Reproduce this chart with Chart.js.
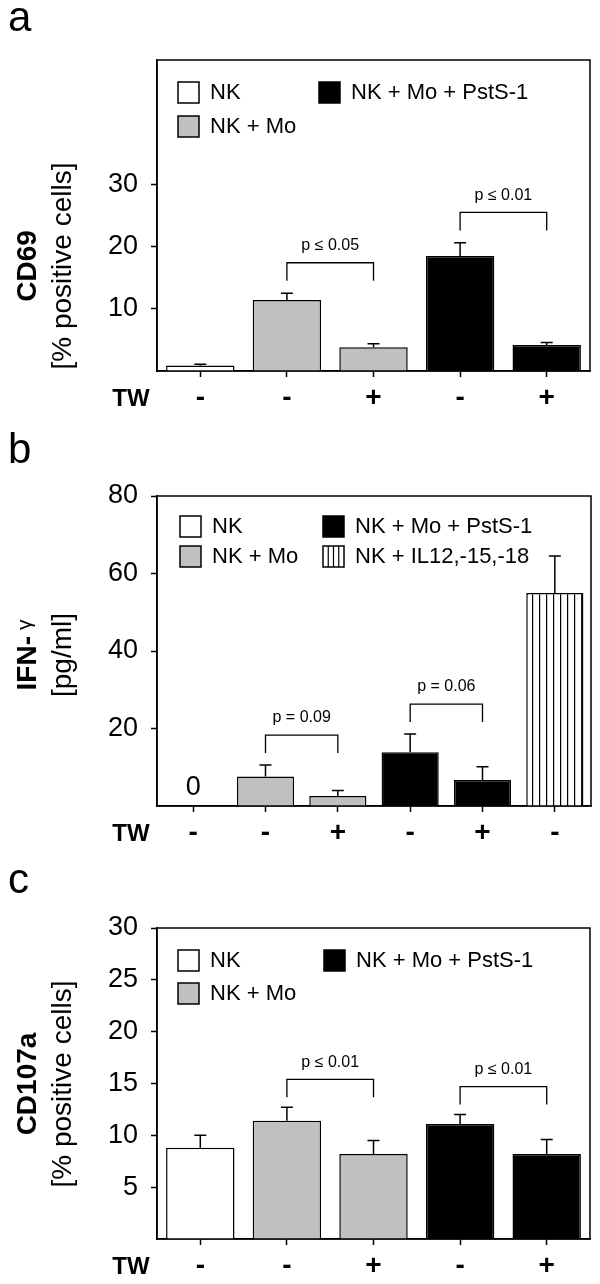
<!DOCTYPE html>
<html>
<head>
<meta charset="utf-8">
<script src="https://cdn.jsdelivr.net/npm/chart.js@4.4.1/dist/chart.umd.min.js"></script>
<style>
  html, body { margin: 0; padding: 0; background: #fff; }
  body { width: 600px; height: 1284px; position: relative; overflow: hidden; }
  canvas { position: absolute; left: 0; }
</style>
</head>
<body>
<canvas id="cd69" width="600" height="420" style="top:0px"></canvas>
<canvas id="ifn" width="600" height="430" style="top:420px"></canvas>
<canvas id="cd107" width="600" height="434" style="top:850px"></canvas>
<script>
// TW row under each bar ("-" without transwell, "+" with transwell)
const twCD69 = ['-', '-', '+', '-', '+'];
const twIFN = ['-', '-', '+', '-', '+', '-'];
const twCD107 = ['-', '-', '+', '-', '+'];

// legend group of every bar
const groupCD69 = [0, 1, 1, 2, 2];
const groupIFN = [0, 1, 1, 2, 2, 3];
const groupCD107 = [0, 1, 1, 2, 2];
const legendLabels = ['NK', 'NK + Mo', 'NK + Mo + PstS-1', 'NK + IL12,-15,-18'];

// means and upper error (SEM)
const cd69Mean = [0.9, 11.4, 3.8, 18.5, 4.2];
const cd69Err = [0.2, 1.1, 0.6, 2.1, 0.4];
const ifnMean = [0, 7.6, 2.6, 13.9, 6.7, 55.0];
const ifnErr = [0, 3.0, 1.4, 4.7, 3.4, 9.5];
const cd107Mean = [8.8, 11.4, 8.2, 11.1, 8.2];
const cd107Err = [1.2, 1.3, 1.3, 0.9, 1.4];

// y tick labels
const cd69Ticks = [10, 20, 30];
const ifnTicks = [20, 40, 60, 80];
const cd107Ticks = [5, 10, 15, 20, 25, 30];

// significance brackets
const cd69Pairs = [[1, 2], [3, 4]];
const cd69P = ['p \u2264 0.05', 'p \u2264 0.01'];
const cd69PLevel = [17.4, 25.5];
const ifnPairs = [[1, 2], [3, 4]];
const ifnP = ['p = 0.09', 'p = 0.06'];
const ifnPLevel = [18.3, 26.3];
const cd107Pairs = [[1, 2], [3, 4]];
const cd107P = ['p \u2264 0.01', 'p \u2264 0.01'];
const cd107PLevel = [15.4, 14.7];

const FONT = "'Liberation Sans', Arial, sans-serif";
const GRAY = '#c0c0c0';

function stripes(ctx) {
  const tile = document.createElement('canvas');
  tile.width = 7; tile.height = 8;
  const t = tile.getContext('2d');
  t.fillStyle = '#fff'; t.fillRect(0, 0, 7, 8);
  t.fillStyle = '#000'; t.fillRect(0, 0, 1.2, 8);
  return ctx.createPattern(tile, 'repeat');
}

function panelPlugin(spec) {
  return {
    id: 'panel',
    afterDatasetsDraw(chart) {
      const { ctx, chartArea: a, scales: { x, y } } = chart;
      const bars = chart.getDatasetMeta(0).data;
      ctx.save();
      ctx.strokeStyle = '#000';
      ctx.fillStyle = '#000';
      ctx.lineWidth = 1.5;
      spec.mean.forEach((m, i) => {
        const bx = bars[i].x;
        if (m === 0) {
          ctx.font = '27px ' + FONT;
          ctx.textAlign = 'center';
          ctx.textBaseline = 'alphabetic';
          ctx.fillText('0', bx, a.bottom - 11);
          return;
        }
        const top = y.getPixelForValue(m + spec.err[i]);
        ctx.beginPath();
        ctx.moveTo(bx, bars[i].y); ctx.lineTo(bx, top);
        ctx.moveTo(bx - 6, top); ctx.lineTo(bx + 6, top);
        ctx.stroke();
      });

      ctx.lineWidth = 1.3;
      ctx.font = '16px ' + FONT;
      ctx.textAlign = 'center';
      ctx.textBaseline = 'middle';
      spec.pairs.forEach(([i, j], k) => {
        const yb = y.getPixelForValue(spec.pLevel[k]);
        const x1 = x.getPixelForValue(i), x2 = x.getPixelForValue(j);
        ctx.beginPath();
        ctx.moveTo(x1, yb + 18); ctx.lineTo(x1, yb); ctx.lineTo(x2, yb); ctx.lineTo(x2, yb + 18);
        ctx.stroke();
        ctx.fillText(spec.p[k], (x1 + x2) / 2, yb - 17);
      });
      ctx.restore();
    },
    afterDraw(chart) {
      const { ctx, chartArea: a } = chart;
      ctx.save();
      ctx.strokeStyle = '#000';
      ctx.fillStyle = '#000';
      ctx.lineWidth = 1.5;
      ctx.strokeRect(a.left, a.top, a.right - a.left, a.bottom - a.top);

      // legend
      const used = [...new Set(spec.group)];
      ctx.font = '22px ' + FONT;
      ctx.textAlign = 'left';
      ctx.textBaseline = 'middle';
      used.forEach(g => {
        const col = Math.floor(g / 2), row = g % 2;
        const bx = a.left + spec.legend.x[col];
        const by = a.top + spec.legend.top + row * spec.legend.gap;
        ctx.fillStyle = ['#fff', GRAY, '#000', '#fff'][g];
        ctx.fillRect(bx, by, 21, 21);
        ctx.lineWidth = 1.5;
        ctx.strokeRect(bx, by, 21, 21);
        if (g === 3) {
          ctx.lineWidth = 1.2;
          ctx.beginPath();
          for (let k = 1; k < 4; k++) {
            ctx.moveTo(bx + 21 * k / 4, by); ctx.lineTo(bx + 21 * k / 4, by + 21);
          }
          ctx.stroke();
        }
        ctx.fillStyle = '#000';
        ctx.fillText(legendLabels[g], bx + 32, by + 11);
      });

      // y title (two rotated lines)
      ctx.save();
      ctx.translate(36, spec.titleY);
      ctx.rotate(-Math.PI / 2);
      ctx.textBaseline = 'alphabetic';
      ctx.font = 'bold 28px ' + FONT;
      const w1 = ctx.measureText(spec.title[0]).width;
      let w2 = 0;
      if (spec.gamma) { ctx.font = '21px ' + FONT; w2 = ctx.measureText('\u03b3').width + 6; }
      ctx.textAlign = 'left';
      ctx.font = 'bold 28px ' + FONT;
      ctx.fillText(spec.title[0], -(w1 + w2) / 2, 0);
      if (spec.gamma) {
        ctx.font = '21px ' + FONT;
        ctx.fillText('\u03b3', -(w1 + w2) / 2 + w1 + 6, -5);
      }
      ctx.restore();
      ctx.save();
      ctx.translate(71, spec.titleY);
      ctx.rotate(-Math.PI / 2);
      ctx.textAlign = 'center';
      ctx.textBaseline = 'alphabetic';
      ctx.font = '28px ' + FONT;
      ctx.fillText(spec.title[1], 0, 0);
      ctx.restore();

      // TW row label and panel letter
      ctx.font = 'bold 24px ' + FONT;
      ctx.textAlign = 'center';
      ctx.textBaseline = 'middle';
      ctx.fillText('TW', 131, a.bottom + 28);
      ctx.font = '42px ' + FONT;
      ctx.textAlign = 'left';
      ctx.textBaseline = 'alphabetic';
      ctx.fillText(spec.letter, 8, spec.letterY);
      ctx.restore();
    }
  };
}

function drawPanel(id, spec) {
  const canvas = document.getElementById(id);
  const fills = ['#fff', GRAY, '#000', stripes(canvas.getContext('2d'))];
  new Chart(canvas, {
    type: 'bar',
    data: {
      labels: spec.tw,
      datasets: [{
        data: spec.mean,
        backgroundColor: spec.group.map(g => fills[g]),
        borderColor: '#000',
        borderWidth: 1.5,
        categoryPercentage: 1,
        barPercentage: 0.79
      }]
    },
    options: {
      responsive: false,
      animation: false,
      events: [],
      layout: { padding: { top: spec.area.top, right: 600 - spec.area.right, left: 0, bottom: 0 } },
      plugins: { legend: { display: false }, tooltip: { enabled: false } },
      scales: {
        x: {
          grid: { offset: false, drawOnChartArea: false, tickLength: 6, tickWidth: 1.5, tickColor: '#000' },
          border: { color: '#000', width: 1.5 },
          ticks: { color: '#000', font: { family: FONT, size: 28, weight: 'bold' }, padding: 4, maxRotation: 0, autoSkip: false },
          afterFit: s => { s.height = spec.h - spec.area.bottom; }
        },
        y: {
          min: 0,
          max: spec.max,
          afterBuildTicks: s => { s.ticks = spec.ticks.map(v => ({ value: v })); },
          grid: { drawOnChartArea: false, tickLength: 6, tickWidth: 1.5, tickColor: '#000' },
          border: { color: '#000', width: 1.5 },
          ticks: { color: '#000', font: { family: FONT, size: 27 }, padding: 13 },
          afterFit: s => { s.width = spec.area.left; }
        }
      }
    },
    plugins: [panelPlugin(spec)]
  });
}

drawPanel('cd69', {
  tw: twCD69, group: groupCD69, mean: cd69Mean, err: cd69Err, ticks: cd69Ticks,
  pairs: cd69Pairs, p: cd69P, pLevel: cd69PLevel,
  max: 50, h: 420, area: { left: 157, top: 60, right: 590, bottom: 371 },
  title: ['CD69', '[% positive cells]'], titleY: 266, letter: 'a', letterY: 31,
  legend: { x: [21, 162], top: 22, gap: 34 }
});

drawPanel('ifn', {
  tw: twIFN, group: groupIFN, mean: ifnMean, err: ifnErr, ticks: ifnTicks,
  pairs: ifnPairs, p: ifnP, pLevel: ifnPLevel,
  max: 80, h: 430, area: { left: 157, top: 76, right: 591, bottom: 386 },
  title: ['IFN-', '[pg/ml]'], gamma: true, titleY: 235, letter: 'b', letterY: 43,
  legend: { x: [23, 166], top: 20, gap: 30 }
});

drawPanel('cd107', {
  tw: twCD107, group: groupCD107, mean: cd107Mean, err: cd107Err, ticks: cd107Ticks,
  pairs: cd107Pairs, p: cd107P, pLevel: cd107PLevel,
  max: 30, h: 434, area: { left: 157, top: 78, right: 590, bottom: 389 },
  title: ['CD107a', '[% positive cells]'], titleY: 234, letter: 'c', letterY: 43,
  legend: { x: [21, 167], top: 22, gap: 33 }
});
</script>
</body>
</html>
